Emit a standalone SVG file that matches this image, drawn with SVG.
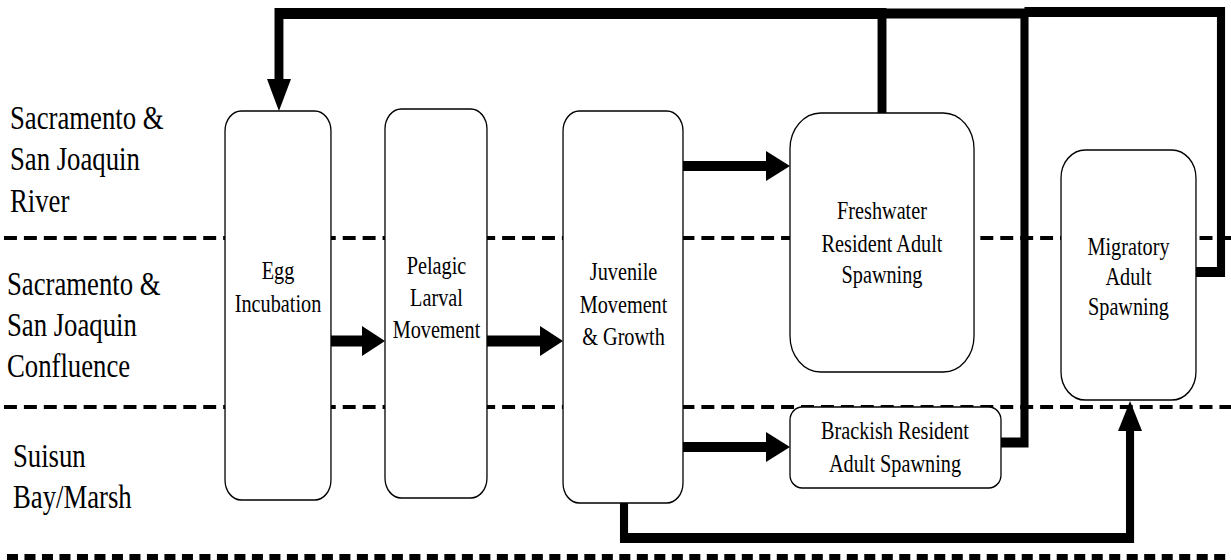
<svg xmlns="http://www.w3.org/2000/svg" width="1231" height="560" viewBox="0 0 1231 560">
<style>
.box{fill:#fff;stroke:#000;stroke-width:1.6}
.lbl{font-size:33px;fill:#000}
.nt{font-size:25px;fill:#000;text-anchor:middle}
.dash{fill:none;stroke:#000;stroke-width:4;stroke-dasharray:16 8.6}
.dashb{fill:none;stroke:#000;stroke-width:6;stroke-dasharray:13.6 8}
.c{fill:none;stroke:#000;stroke-linejoin:miter;stroke-linecap:butt}
.h{fill:#000;stroke:none}
</style>
<rect x="0" y="0" width="1231" height="560" fill="#fff"/>
<g transform="scale(0.81 1)" font-family="'Liberation Serif', 'Times New Roman', 'DejaVu Serif', serif">
  <g id="zones">
    <line class="dash" x1="4.9" y1="238" x2="1520" y2="238"/>
    <line class="dash" x1="4.9" y1="407" x2="1520" y2="407"/>
    <line class="dashb" x1="8.6" y1="557" x2="1520" y2="557"/>
    <text class="lbl" x="12.3" y="129">Sacramento &amp;</text>
    <text class="lbl" x="12.3" y="170.5">San Joaquin</text>
    <text class="lbl" x="12.3" y="212">River</text>
    <text class="lbl" x="8.6" y="295">Sacramento &amp;</text>
    <text class="lbl" x="8.6" y="336">San Joaquin</text>
    <text class="lbl" x="8.6" y="377">Confluence</text>
    <text class="lbl" x="16" y="467">Suisun</text>
    <text class="lbl" x="16" y="508">Bay/Marsh</text>
  </g>
  <g id="connectors">
    <path class="c" stroke-width="10" d="M1235.8,442.5 H1264.8 V13.5 H1088.9"/>
    <path class="c" stroke-width="10" d="M1476.5,272 H1507.4 V12 H1264.8"/>
    <path class="c" stroke-width="11" d="M1088.9,113 V13.5 H344.4 V80"/>
    <polygon class="h" points="329.6,79 359.3,79 344.4,111"/>
    <path class="c" stroke-width="11" d="M408.6,341 H448"/>
    <polygon class="h" points="446.9,326 446.9,356 475.3,341"/>
    <path class="c" stroke-width="11" d="M601.2,341 H668"/>
    <polygon class="h" points="666.7,326 666.7,356 695.1,341"/>
    <path class="c" stroke-width="10" d="M843.2,166 H947"/>
    <polygon class="h" points="945.7,151 945.7,181 975.3,166"/>
    <path class="c" stroke-width="10" d="M843.2,447 H947"/>
    <polygon class="h" points="945.7,432 945.7,462 975.3,447"/>
    <path class="c" stroke-width="10" d="M770.4,503 V538 H1395.1 V429"/>
    <polygon class="h" points="1380.3,431 1409.9,431 1395.1,401"/>
  </g>
  <g id="egg">
    <rect class="box" x="277.8" y="111" width="130.8" height="389" rx="20" ry="20"/>
    <text class="nt" x="343.2" y="279">Egg</text>
    <text class="nt" x="343.2" y="312">Incubation</text>
  </g>
  <g id="pelagic">
    <rect class="box" x="475.3" y="109" width="125.9" height="389" rx="20" ry="20"/>
    <text class="nt" x="538.9" y="274">Pelagic</text>
    <text class="nt" x="538.9" y="306">Larval</text>
    <text class="nt" x="538.9" y="338">Movement</text>
  </g>
  <g id="juvenile">
    <rect class="box" x="695.1" y="111" width="148.1" height="392" rx="20" ry="20"/>
    <text class="nt" x="769.8" y="280">Juvenile</text>
    <text class="nt" x="769.8" y="313">Movement</text>
    <text class="nt" x="769.8" y="345">&amp; Growth</text>
  </g>
  <g id="freshwater">
    <rect class="box" x="975.3" y="113" width="227.2" height="259" rx="38" ry="36"/>
    <text class="nt" x="1088.9" y="219">Freshwater</text>
    <text class="nt" x="1088.9" y="252">Resident Adult</text>
    <text class="nt" x="1088.9" y="283">Spawning</text>
  </g>
  <g id="migratory">
    <rect class="box" x="1309.9" y="150" width="166.6" height="250" rx="30" ry="28"/>
    <text class="nt" x="1393.2" y="255">Migratory</text>
    <text class="nt" x="1393.2" y="285">Adult</text>
    <text class="nt" x="1393.2" y="315">Spawning</text>
  </g>
  <g id="brackish">
    <rect class="box" x="975.3" y="407" width="260.5" height="81" rx="15" ry="13"/>
    <text class="nt" x="1104.9" y="439">Brackish Resident</text>
    <text class="nt" x="1104.9" y="472">Adult Spawning</text>
  </g>
</g>
</svg>
